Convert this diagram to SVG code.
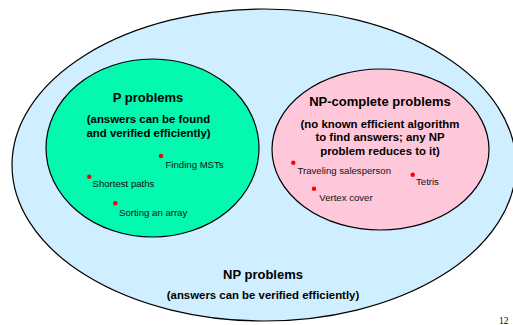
<svg xmlns="http://www.w3.org/2000/svg" width="513" height="325" viewBox="0 0 513 325">
<style>
.b{font-family:"Liberation Sans",Arial,sans-serif;font-weight:bold;fill:#000;text-anchor:middle}
.t{font-family:"Liberation Sans",Arial,sans-serif;font-size:9.6px;fill:#111}
.dot{fill:#f00}
.e{stroke:#000;stroke-width:1.2}
</style>
<rect width="513" height="325" fill="#fff"/>
<g id="np">
<ellipse class="e" cx="264" cy="165" rx="252" ry="156" fill="#cfeeff"/>
<text class="b" x="263" y="279" font-size="13">NP problems</text>
<text class="b" x="263" y="299" font-size="11.4">(answers can be verified efficiently)</text>
</g>
<g id="p">
<ellipse class="e" cx="152.5" cy="148" rx="106.5" ry="89" fill="#03f8b0"/>
<text class="b" x="148" y="102" font-size="13">P problems</text>
<text class="b" x="148.5" y="123" font-size="11.4">(answers can be found</text>
<text class="b" x="148.5" y="137" font-size="11.4">and verified efficiently)</text>
<circle class="dot" cx="161" cy="156" r="2.2"/>
<text class="t" x="165.5" y="168">Finding MSTs</text>
<circle class="dot" cx="89.3" cy="176.7" r="2.2"/>
<text class="t" x="92.5" y="187">Shortest paths</text>
<circle class="dot" cx="115.3" cy="203.3" r="2.2"/>
<text class="t" x="119" y="216">Sorting an array</text>
</g>
<g id="npc">
<ellipse class="e" cx="380.5" cy="149.5" rx="108.5" ry="80.5" fill="#ffc8da"/>
<text class="b" x="380" y="106" font-size="13">NP-complete problems</text>
<text class="b" x="380" y="127.5" font-size="11.4">(no known efficient algorithm</text>
<text class="b" x="380" y="141" font-size="11.4">to find answers; any NP</text>
<text class="b" x="380" y="154.5" font-size="11.4">problem reduces to it)</text>
<circle class="dot" cx="293.3" cy="162.7" r="2.2"/>
<text class="t" x="297.5" y="174">Traveling salesperson</text>
<circle class="dot" cx="412.7" cy="174.7" r="2.2"/>
<text class="t" x="416" y="185">Tetris</text>
<circle class="dot" cx="314" cy="188.7" r="2.2"/>
<text class="t" x="319.3" y="201">Vertex cover</text>
</g>
<g id="connectors"/>
<text x="499" y="324" font-family="'Liberation Serif','Times New Roman',serif" font-size="9.5" fill="#000">12</text>
</svg>
